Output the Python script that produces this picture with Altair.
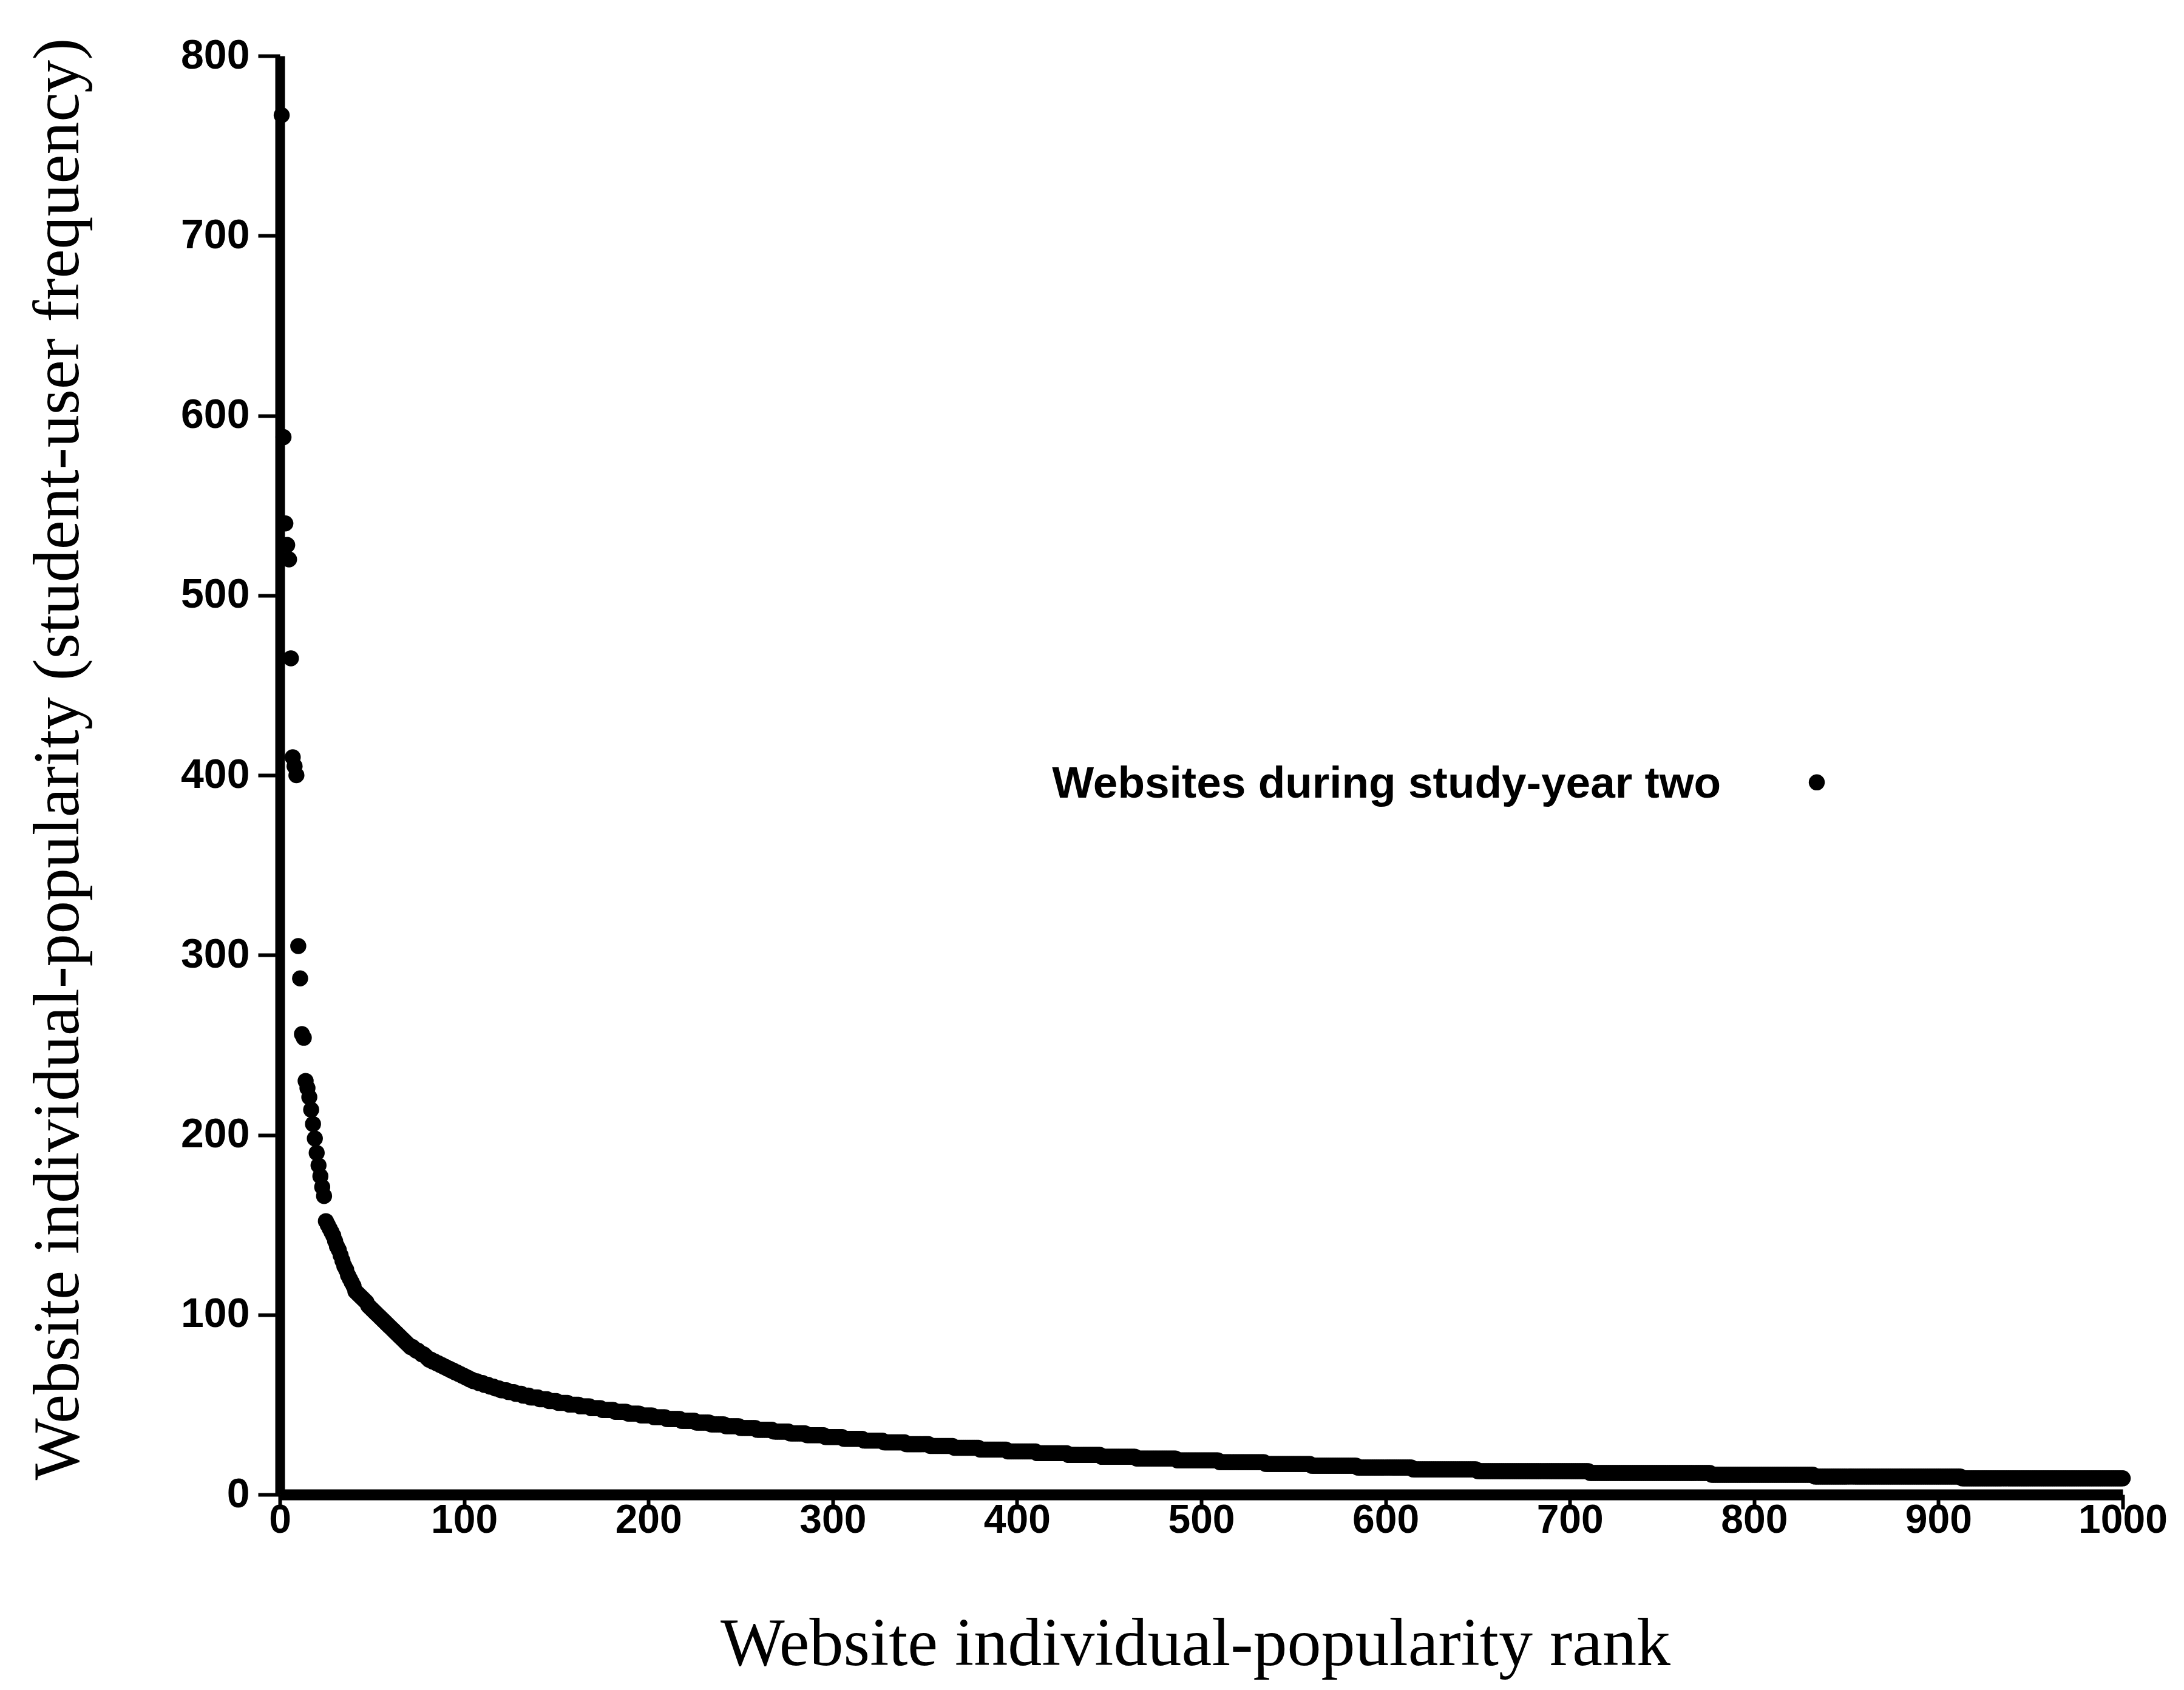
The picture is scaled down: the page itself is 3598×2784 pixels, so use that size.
import altair as alt
import pandas as pd

# ---- data ----
series_name = "Websites during study-year two"

# frequency of the top-ranked websites, rank 1 .. 80
head_freq = [
    767, 588, 540, 528, 520, 465, 410, 405, 400, 305,
    287, 256, 254, 230, 226, 221, 214, 206, 198, 190,
    183, 177, 171, 166, 152, 150, 148, 146, 144, 141,
    138, 136, 133, 130, 127, 125, 122, 120, 118, 116,
    113, 112, 111, 110, 109, 108, 107, 105, 104, 103,
    102, 101, 100, 99, 98, 97, 96, 95, 94, 93,
    92, 91, 90, 89, 88, 87, 86, 85, 84, 83,
    82, 82, 81, 80, 80, 79, 78, 78, 77, 76,
]

# long tail, read as plateaus: frequency level and number of websites on it
tail_levels = [75, 74, 73, 72, 71, 70, 69, 68, 67, 66, 65, 64, 63, 62, 61, 60,
               59, 58, 57, 56, 55, 54, 53, 52, 51, 50, 49, 48, 47, 46, 45, 44,
               43, 42, 41, 40, 39, 38, 37, 36, 35, 34, 33, 32, 31, 30, 29, 28,
               27, 26, 25, 24, 23, 22, 21, 20, 19, 18, 17, 16, 15, 14, 13, 12,
               11, 10, 9]
tail_counts = [2, 2, 2, 2, 2, 2, 2, 2, 2, 2, 2, 2, 3, 3, 3, 3,
               3, 4, 4, 4, 4, 5, 5, 5, 6, 6, 6, 6, 7, 7, 7, 7,
               7, 8, 8, 8, 8, 8, 9, 9, 9, 9, 10, 10, 11, 11, 12, 13,
               13, 14, 15, 16, 17, 18, 19, 22, 23, 25, 25, 25, 30, 35, 61, 66,
               56, 80, 88]

x_ticks = [0, 100, 200, 300, 400, 500, 600, 700, 800, 900, 1000]
y_ticks = [0, 100, 200, 300, 400, 500, 600, 700, 800]

# legend entry (text ends left of the dot), anchored in data units
legend_text_rank = [782]
legend_dot_rank = [834]
legend_freq = [396]

freqs = list(head_freq)
for lv, c in zip(tail_levels, tail_counts):
    freqs.extend([lv] * c)
ranks = list(range(1, len(freqs) + 1))
df = pd.DataFrame({"rank": ranks, "freq": freqs})
legend_df = pd.DataFrame({
    "text_rank": legend_text_rank, "dot_rank": legend_dot_rank,
    "freq": legend_freq, "label": [series_name],
})

PLOT_W, PLOT_H = 3036, 2370
PAD = {"left": 461, "top": 92, "right": 3598 - 461 - PLOT_W, "bottom": 2784 - 92 - PLOT_H}
MARK_SIZE = 700

x_scale = alt.Scale(domain=[0, 1000], nice=False)
y_scale = alt.Scale(domain=[0, 800], nice=False)

x_axis = alt.Axis(
    values=x_ticks, format="d", grid=False,
    title="Website individual-popularity rank",
    titleFont="Liberation Serif", titleFontSize=112, titleFontWeight="normal",
    titleColor="black", titleX=1508, titleY=246, titleAlign="center", titleBaseline="middle",
    labelFont="Liberation Sans", labelFontSize=66, labelFontWeight="bold", labelColor="black",
    labelPadding=-14, labelOverlap=False, labelFlush=False,
    tickSize=24, tickWidth=6, tickColor="black",
    domainColor="black", domainWidth=18,
)
y_axis = alt.Axis(
    values=y_ticks, format="d", grid=False,
    title="Website individual-popularity (student-user frequency)",
    titleFont="Liberation Serif", titleFontSize=108, titleFontWeight="normal",
    titleColor="black", titleX=-365, titleY=1158, titleAngle=270,
    titleAlign="center", titleBaseline="middle",
    labelFont="Liberation Sans", labelFontSize=68, labelFontWeight="bold", labelColor="black",
    labelPadding=14, labelOverlap=False, labelFlush=False,
    tickSize=36, tickWidth=6, tickColor="black",
    domainColor="black", domainWidth=16,
)

points = alt.Chart(df).mark_circle(size=MARK_SIZE, opacity=1, color="black").encode(
    x=alt.X("rank:Q", scale=x_scale, axis=x_axis),
    y=alt.Y("freq:Q", scale=y_scale, axis=y_axis),
)

legend_text = alt.Chart(legend_df).mark_text(
    align="right", baseline="middle", font="Liberation Sans", fontSize=73,
    fontWeight="bold", color="black", dy=3,
).encode(
    x=alt.X("text_rank:Q", scale=x_scale),
    y=alt.Y("freq:Q", scale=y_scale),
    text="label:N",
)

legend_dot = alt.Chart(legend_df).mark_circle(size=MARK_SIZE, opacity=1, color="black").encode(
    x=alt.X("dot_rank:Q", scale=x_scale),
    y=alt.Y("freq:Q", scale=y_scale),
)

chart = alt.layer(points, legend_text, legend_dot).properties(
    width=PLOT_W, height=PLOT_H, padding=PAD,
    autosize=alt.AutoSizeParams(type="none"), background="white",
).configure_view(stroke=None)

chart.save("out.html", embed_options={"renderer": "svg", "actions": False})
